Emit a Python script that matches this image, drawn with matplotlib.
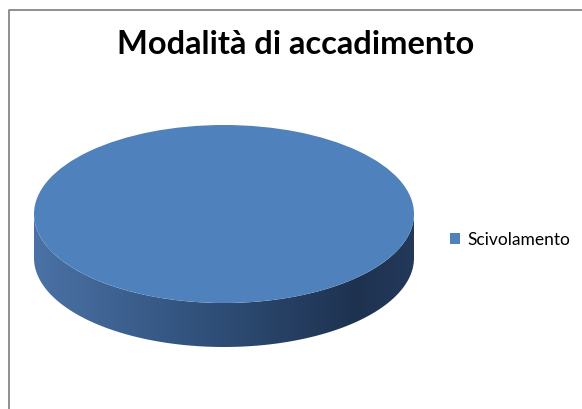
import numpy as np
import matplotlib.pyplot as plt
from matplotlib.colors import LinearSegmentedColormap
from matplotlib.patches import Polygon
from matplotlib.lines import Line2D

# =========================================================
# DATA
# =========================================================

labels = ["Scivolamento"]
values = [100]
colors = ["#4f81bd"]

title = "Modalità di accadimento"

# =========================================================
# FIGURE
# =========================================================

W, H = 582, 409
fig = plt.figure(figsize=(W / 100, H / 100), dpi=100)
fig.patch.set_facecolor("white")

# pie box in pixels: top face center (224, 214), a=190, b=89, depth 44
left_px, right_px = 34, 414
top_px, bottom_px = 125, 347
depth = 44 / 89

ax = fig.add_axes([
    left_px / W,
    (H - bottom_px) / H,
    (right_px - left_px) / W,
    (bottom_px - top_px) / H
])

# side of the cylinder (gradient band)
t = np.linspace(np.pi, 2 * np.pi, 200)
xs = np.cos(t)
ys = np.sin(t)
side = np.concatenate([
    np.column_stack([xs, ys]),
    np.column_stack([xs[::-1], ys[::-1] - depth])
])
side_patch = Polygon(side, closed=True, facecolor="none", edgecolor="none")
ax.add_patch(side_patch)

side_cmap = LinearSegmentedColormap.from_list(
    "side",
    [(0.0, "#4b72a6"), (0.45, "#30507a"), (0.85, "#1e3250"), (1.0, "#24395a")]
)
grad = np.linspace(0, 1, 256).reshape(1, -1)
img = ax.imshow(
    grad,
    cmap=side_cmap,
    extent=(-1, 1, -1 - depth, 0.2),
    aspect="auto",
    zorder=1
)
img.set_clip_path(side_patch)

# top face
wedges, _ = ax.pie(
    values,
    labels=None,
    colors=colors,
    startangle=90,
    counterclock=False,
    wedgeprops=dict(linewidth=0, zorder=2)
)
for w in wedges:
    w.set_zorder(2)

ax.set_aspect("auto")
ax.set_xlim(-1, 1)
ax.set_ylim(-1 - depth, 1)
ax.axis("off")

# =========================================================
# TITLE / LEGEND
# =========================================================

fig.text(
    296 / W, 1 - 45 / H,
    title,
    ha="center", va="center",
    fontsize=23.5, fontweight="bold",
    family=["Lato", "DejaVu Sans"],
    color="black"
)

fig.legend(
    wedges, labels,
    loc="center left",
    bbox_to_anchor=(434 / W, 1 - 240 / H),
    frameon=False,
    handlelength=0.6,
    handleheight=0.6,
    handletextpad=0.4,
    prop=dict(family="Lato", size=12.5)
)

# chart border (partially visible)
border = Line2D(
    [8.5 / W, 8.5 / W, 1.0],
    [0.0, 1 - 9.5 / H, 1 - 9.5 / H],
    transform=fig.transFigure,
    color="#868686",
    linewidth=1.3
)
fig.add_artist(border)

fig.savefig("out.png", dpi=100)
